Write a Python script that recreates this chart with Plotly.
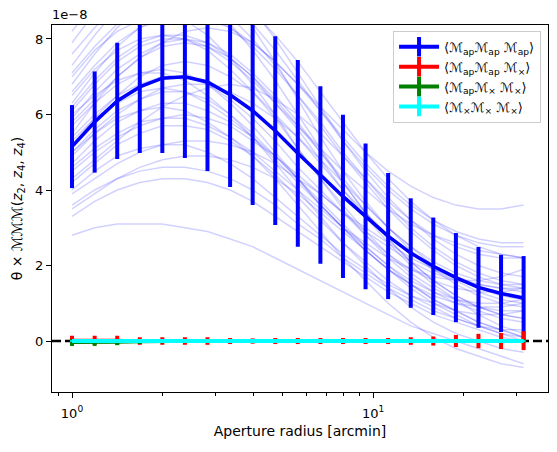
import plotly.graph_objects as go

# aperture radii [arcmin]
radius = [1.0, 1.189, 1.413, 1.679, 1.995, 2.371, 2.818, 3.350, 3.981, 4.732, 5.623,
          6.683, 7.943, 9.441, 11.22, 13.34, 15.85, 18.84, 22.39, 26.61, 31.62]

# mean values (units of 1e-8) and errors
map_map_map = [5.15, 5.8, 6.36, 6.73, 6.96, 7.0, 6.86, 6.52, 6.1, 5.57, 4.97,
               4.4, 3.83, 3.30, 2.78, 2.33, 1.98, 1.68, 1.42, 1.26, 1.14]
map_map_map_err = [1.1, 1.34, 1.54, 1.75, 1.98, 2.15, 2.36, 2.44, 2.5, 2.5, 2.47,
                   2.35, 2.16, 1.93, 1.67, 1.45, 1.29, 1.18, 1.07, 1.02, 1.11]

map_map_mx = [0.02, 0.02, 0.02, 0.0, 0.0, 0.0, 0.0, 0.0, 0.0, 0.0, 0.0,
              0.0, 0.0, 0.0, 0.0, 0.0, 0.0, 0.0, 0.0, 0.0, 0.01]
map_map_mx_err = [0.12, 0.12, 0.12, 0.1, 0.1, 0.1, 0.1, 0.08, 0.07, 0.08, 0.08,
                  0.08, 0.08, 0.08, 0.08, 0.1, 0.12, 0.16, 0.19, 0.21, 0.25]

map_mx_mx = [-0.04, -0.04, -0.03, -0.02, -0.01, 0.0, 0.0, 0.0, 0.0, 0.0, 0.0,
             0.0, 0.0, 0.0, 0.0, 0.0, 0.0, 0.0, 0.0, 0.0, 0.0]
map_mx_mx_err = [0.09, 0.09, 0.08, 0.06, 0.05, 0.04, 0.04, 0.04, 0.04, 0.04, 0.04,
                 0.04, 0.04, 0.04, 0.04, 0.04, 0.04, 0.04, 0.04, 0.04, 0.04]

mx_mx_mx = [0.0] * 21
mx_mx_mx_err = [0.02] * 21

# individual realisations (units of 1e-8)
realisations = [
    [2.8, 3.0, 3.1, 3.1, 3.1, 3.0, 2.9, 2.7, 2.5, 2.2, 1.9, 1.6, 1.3, 1.0, 0.7, 0.4, 0.2, 0.0, -0.2, -0.4, -0.6],
    [3.3, 3.7, 4.0, 4.2, 4.3, 4.3, 4.2, 4.0, 3.7, 3.3, 2.9, 2.5, 2.1, 1.7, 1.3, 1.0, 0.7, 0.5, 0.3, 0.1, 0.0],
    [3.6, 4.0, 4.3, 4.5, 4.6, 4.6, 4.5, 4.3, 4.0, 3.6, 3.1, 2.7, 2.2, 1.8, 1.4, 1.1, 0.8, 0.6, 0.4, 0.3, 0.3],
    [4.0, 4.5, 4.9, 5.1, 5.2, 5.2, 5.0, 4.7, 4.3, 3.8, 3.3, 2.8, 2.3, 1.9, 1.5, 1.2, 1.0, 0.8, 0.7, 0.7, 0.8],
    [4.2, 4.7, 5.2, 5.5, 5.7, 5.7, 5.6, 5.3, 4.9, 4.4, 3.8, 3.2, 2.6, 2.1, 1.6, 1.2, 0.9, 0.6, 0.4, 0.2, 0.1],
    [4.5, 5.0, 5.4, 5.7, 5.9, 6.0, 5.9, 5.7, 5.3, 4.9, 4.4, 3.9, 3.4, 2.9, 2.5, 2.1, 1.8, 1.6, 1.5, 1.4, 1.4],
    [4.7, 5.3, 5.8, 6.1, 6.3, 6.3, 6.1, 5.8, 5.4, 4.9, 4.3, 3.7, 3.1, 2.5, 2.0, 1.5, 1.1, 0.8, 0.5, 0.3, 0.1],
    [4.9, 5.5, 6.0, 6.4, 6.7, 6.8, 6.8, 6.6, 6.3, 5.9, 5.4, 4.8, 4.2, 3.6, 3.0, 2.5, 2.1, 1.8, 1.6, 1.5, 1.5],
    [5.0, 5.6, 6.1, 6.4, 6.6, 6.6, 6.4, 6.0, 5.5, 4.9, 4.3, 3.6, 3.0, 2.4, 1.9, 1.4, 1.0, 0.7, 0.4, 0.2, 0.0],
    [5.2, 5.9, 6.5, 7.0, 7.3, 7.4, 7.3, 7.0, 6.6, 6.0, 5.4, 4.7, 4.0, 3.4, 2.8, 2.3, 1.9, 1.6, 1.3, 1.1, 1.0],
    [5.4, 6.0, 6.5, 6.8, 7.0, 7.0, 6.8, 6.4, 5.9, 5.3, 4.6, 4.0, 3.4, 2.8, 2.3, 1.9, 1.6, 1.4, 1.3, 1.3, 1.4],
    [5.5, 6.3, 7.0, 7.5, 7.8, 7.9, 7.8, 7.5, 7.0, 6.4, 5.7, 5.0, 4.3, 3.6, 3.0, 2.5, 2.0, 1.7, 1.4, 1.2, 1.1],
    [5.7, 6.3, 6.8, 7.1, 7.2, 7.1, 6.8, 6.3, 5.7, 5.0, 4.3, 3.6, 3.0, 2.4, 1.9, 1.5, 1.2, 1.0, 0.9, 0.9, 1.0],
    [5.9, 6.6, 7.2, 7.6, 7.9, 8.0, 7.9, 7.6, 7.1, 6.5, 5.8, 5.0, 4.2, 3.4, 2.7, 2.1, 1.6, 1.2, 0.9, 0.7, 0.6],
    [6.1, 6.8, 7.4, 7.8, 8.0, 8.0, 7.8, 7.4, 6.9, 6.3, 5.7, 5.1, 4.5, 4.0, 3.5, 3.1, 2.8, 2.6, 2.4, 2.3, 2.2],
    [6.3, 7.1, 7.8, 8.3, 8.6, 8.7, 8.6, 8.3, 7.8, 7.2, 6.5, 5.8, 5.0, 4.3, 3.6, 3.0, 2.5, 2.1, 1.8, 1.6, 1.5],
    [6.5, 7.2, 7.7, 8.0, 8.1, 8.0, 7.7, 7.2, 6.6, 5.9, 5.1, 4.3, 3.6, 2.9, 2.3, 1.8, 1.4, 1.1, 0.9, 0.8, 0.8],
    [6.8, 7.6, 8.3, 8.8, 9.1, 9.2, 9.0, 8.6, 8.0, 7.3, 6.5, 5.7, 4.9, 4.2, 3.5, 2.9, 2.4, 2.0, 1.7, 1.5, 1.4],
    [7.0, 7.7, 8.2, 8.5, 8.6, 8.5, 8.1, 7.5, 6.8, 6.0, 5.1, 4.3, 3.5, 2.8, 2.2, 1.7, 1.3, 1.0, 0.8, 0.6, 0.5],
    [7.3, 8.1, 8.8, 9.3, 9.6, 9.6, 9.4, 9.0, 8.4, 7.7, 6.9, 6.1, 5.3, 4.6, 4.0, 3.5, 3.1, 2.8, 2.6, 2.5, 2.5],
    [7.6, 8.3, 8.9, 9.2, 9.3, 9.2, 8.9, 8.4, 7.7, 6.9, 6.0, 5.1, 4.2, 3.4, 2.7, 2.1, 1.6, 1.2, 0.9, 0.7, 0.6],
    [7.9, 8.7, 9.4, 9.9, 10.2, 10.2, 10.0, 9.5, 8.8, 8.0, 7.1, 6.2, 5.3, 4.5, 3.8, 3.2, 2.7, 2.3, 2.0, 1.8, 1.7],
    [8.2, 9.0, 9.6, 10.0, 10.2, 10.1, 9.7, 9.1, 8.3, 7.4, 6.4, 5.4, 4.5, 3.7, 3.0, 2.4, 1.9, 1.5, 1.2, 1.0, 0.9],
    [4.3, 4.8, 5.3, 5.8, 6.2, 6.5, 6.7, 6.8, 6.7, 6.4, 6.0, 5.5, 4.9, 4.3, 3.7, 3.2, 2.8, 2.5, 2.3, 2.2, 2.2],
    [5.8, 6.4, 7.0, 7.5, 7.9, 8.2, 8.3, 8.2, 7.9, 7.4, 6.8, 6.1, 5.4, 4.7, 4.1, 3.6, 3.2, 2.9, 2.7, 2.6, 2.6],
    [3.9, 4.3, 4.7, 5.0, 5.2, 5.3, 5.3, 5.2, 5.0, 4.7, 4.3, 3.9, 3.4, 3.0, 2.6, 2.2, 1.9, 1.7, 1.5, 1.4, 1.3],
    [5.0, 5.5, 5.9, 6.1, 6.2, 6.1, 5.8, 5.4, 4.9, 4.3, 3.6, 2.9, 2.2, 1.6, 1.0, 0.5, 0.1, -0.2, -0.4, -0.6, -0.7],
    [6.0, 6.5, 6.9, 7.1, 7.1, 6.9, 6.5, 6.0, 5.4, 4.7, 4.0, 3.3, 2.6, 2.0, 1.4, 0.9, 0.5, 0.2, 0.0, -0.2, -0.3],
    [6.6, 7.3, 7.9, 8.3, 8.5, 8.6, 8.5, 8.3, 7.9, 7.4, 6.8, 6.2, 5.6, 5.0, 4.5, 4.1, 3.8, 3.6, 3.5, 3.5, 3.6],
    [4.6, 5.1, 5.5, 5.8, 5.9, 5.9, 5.7, 5.4, 5.0, 4.5, 4.0, 3.5, 3.0, 2.6, 2.2, 1.9, 1.7, 1.6, 1.6, 1.7, 1.9],
    [3.5, 3.9, 4.3, 4.6, 4.8, 4.9, 4.9, 4.8, 4.6, 4.3, 3.9, 3.4, 2.9, 2.4, 1.9, 1.5, 1.1, 0.8, 0.5, 0.3, 0.1],
    [7.1, 7.8, 8.4, 8.9, 9.2, 9.3, 9.3, 9.1, 8.7, 8.1, 7.4, 6.6, 5.8, 5.0, 4.3, 3.7, 3.2, 2.8, 2.5, 2.3, 2.2],
    [5.3, 5.9, 6.3, 6.6, 6.7, 6.6, 6.3, 5.9, 5.4, 4.8, 4.2, 3.6, 3.0, 2.5, 2.0, 1.6, 1.3, 1.1, 1.0, 1.0, 1.1],
    [6.2, 6.9, 7.5, 7.9, 8.1, 8.1, 7.9, 7.5, 7.0, 6.3, 5.6, 4.8, 4.0, 3.3, 2.6, 2.0, 1.5, 1.1, 0.7, 0.4, 0.2],
]

labels = [
    "⟨ℳ<sub>ap</sub>ℳ<sub>ap</sub> ℳ<sub>ap</sub>⟩",
    "⟨ℳ<sub>ap</sub>ℳ<sub>ap</sub> ℳ<sub>×</sub>⟩",
    "⟨ℳ<sub>ap</sub>ℳ<sub>×</sub> ℳ<sub>×</sub>⟩",
    "⟨ℳ<sub>×</sub>ℳ<sub>×</sub> ℳ<sub>×</sub>⟩",
]
colors = ["blue", "red", "green", "cyan"]

fig = go.Figure()

for r in realisations:
    fig.add_trace(go.Scatter(x=radius, y=r, mode="lines",
                             line=dict(color="rgba(0,0,255,0.18)", width=1.5),
                             showlegend=False, hoverinfo="skip"))

series = [(map_map_map, map_map_map_err, 3.5),
          (map_map_mx, map_map_mx_err, 3),
          (map_mx_mx, map_mx_mx_err, 3),
          (mx_mx_mx, mx_mx_mx_err, 4)]
for (vals, errs, lw), col in zip(series, colors):
    fig.add_trace(go.Scatter(x=radius, y=vals, mode="lines",
                             line=dict(color=col, width=lw),
                             error_y=dict(type="data", array=errs, color=col,
                                          thickness=4, width=0),
                             showlegend=False))

# legend entries (errorbar-like symbol)
for lab, col in zip(labels, colors):
    fig.add_trace(go.Scatter(x=[None], y=[None], mode="lines+markers", name=lab,
                             line=dict(color=col, width=4),
                             marker=dict(symbol="line-ns", size=14,
                                         line=dict(color=col, width=4))))

fig.add_shape(type="line", xref="paper", yref="y", x0=0, x1=1, y0=0, y1=0,
              line=dict(color="black", width=2.5, dash="9px,4px"), layer="below")

fig.add_annotation(text="1e−8", xref="paper", yref="paper", x=0, y=1,
                   xanchor="left", yanchor="bottom", showarrow=False,
                   font=dict(size=13, color="black"), xshift=-2, yshift=1)

fig.update_layout(
    width=557, height=452,
    margin=dict(l=52, r=9, t=25, b=60),
    paper_bgcolor="white", plot_bgcolor="white",
    font=dict(family="DejaVu Sans", size=13, color="black"),
    legend=dict(x=0.986, y=0.984, xanchor="right", yanchor="top",
                bgcolor="rgba(255,255,255,0.8)", bordercolor="#cccccc",
                borderwidth=1, font=dict(size=13), itemwidth=40,
                tracegroupgap=2),
    xaxis=dict(type="log", range=[-0.0665, 1.581],
               tickvals=[1, 10], ticktext=["10<sup>0</sup>", "10<sup>1</sup>"],
               ticks="outside", ticklen=5, tickwidth=1, tickcolor="black",
               ticklabelstandoff=4,
               minor=dict(tickvals=[0.9, 2, 3, 4, 5, 6, 7, 8, 9, 20, 30],
                          ticks="outside", ticklen=3, tickwidth=0.8, tickcolor="black"),
               showline=True, linecolor="black", linewidth=1, mirror=True,
               showgrid=False, zeroline=False,
               title=dict(text="Aperture radius [arcmin]", standoff=6,
                          font=dict(size=14))),
    yaxis=dict(range=[-1.35, 8.37], tickvals=[0, 2, 4, 6, 8],
               ticktext=["0", "2", "4", "6", "8"],
               ticks="outside", ticklen=5, tickwidth=1, tickcolor="black",
               showline=True, linecolor="black", linewidth=1, mirror=True,
               showgrid=False, zeroline=False,
               title=dict(text="θ × ℳℳℳ(<i>z</i><sub>2</sub>, <i>z</i><sub>4</sub>, <i>z</i><sub>4</sub>)",
                          standoff=9, font=dict(size=14))),
)

fig.write_html("out.html")
